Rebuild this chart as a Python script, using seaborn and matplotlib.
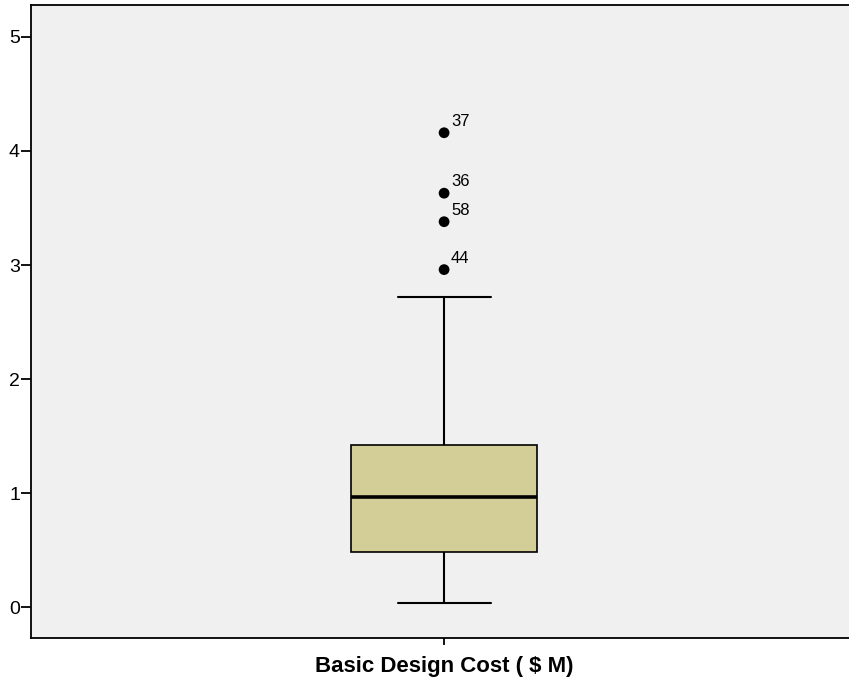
import matplotlib
matplotlib.use("Agg")
import matplotlib.pyplot as plt
import seaborn as sns
import pandas as pd

# box summary: low whisker, Q1, median, Q3, high whisker
box_values = [0.035, 0.483, 0.967, 1.424, 2.724]
# outliers and their case numbers
outlier_values = [2.96, 3.38, 3.63, 4.16]
outlier_cases = ["44", "58", "36", "37"]
y_ticks = [0, 1, 2, 3, 4, 5]
label = "Basic Design Cost ( $ M)"

sns.set_style("white")
plt.rcParams['font.family'] = ['Liberation Sans', 'DejaVu Sans']
plt.rcParams['text.color'] = 'black'
plt.rcParams['axes.labelcolor'] = 'black'
plt.rcParams['xtick.color'] = 'black'
plt.rcParams['ytick.color'] = 'black'

fig = plt.figure(figsize=(8.49, 6.81), dpi=100)
ax = fig.add_axes([31 / 849, 43 / 681, 1 - 31 / 849, 633 / 681])
ax.set_facecolor("#F0F0F0")

df_box = pd.DataFrame({"cost": box_values})
sns.boxplot(y="cost", data=df_box, ax=ax, whis=(0, 100), width=0.227,
            color="#D3CE97", saturation=1, linecolor="black", linewidth=1.2,
            medianprops={"linewidth": 2.6, "color": "black"},
            whiskerprops={"linewidth": 1.5}, capprops={"linewidth": 1.5})

df_out = pd.DataFrame({"x": [0] * len(outlier_values), "cost": outlier_values})
sns.scatterplot(x="x", y="cost", data=df_out, ax=ax, color="black", s=60,
                edgecolor="none", zorder=5)
for v, c in zip(outlier_values, outlier_cases):
    ax.annotate(c, (0, v), xytext=(5, 5), textcoords="offset points",
                fontsize=12, color="black")

ax.set_xlim(-0.505, 0.495)
ax.set_ylim(-0.27, 5.28)
ax.set_yticks(y_ticks)
ax.set_xticks([0])
ax.set_xticklabels([""])
ax.set_xlabel(label, fontsize=16, fontweight="bold")
ax.xaxis.set_label_coords(0.505, -0.029, transform=ax.transAxes)
ax.xaxis.label.set_verticalalignment("top")
ax.set_ylabel("")
ax.tick_params(axis="y", direction="out", length=7, width=1.3, labelsize=14, pad=1, left=True)
ax.tick_params(axis="x", direction="out", length=5, width=1.3, bottom=True)
for side in ["left", "bottom", "top"]:
    ax.spines[side].set_color("black")
    ax.spines[side].set_linewidth(1.3)
ax.spines["right"].set_visible(False)

fig.savefig("out.png", dpi=100)
